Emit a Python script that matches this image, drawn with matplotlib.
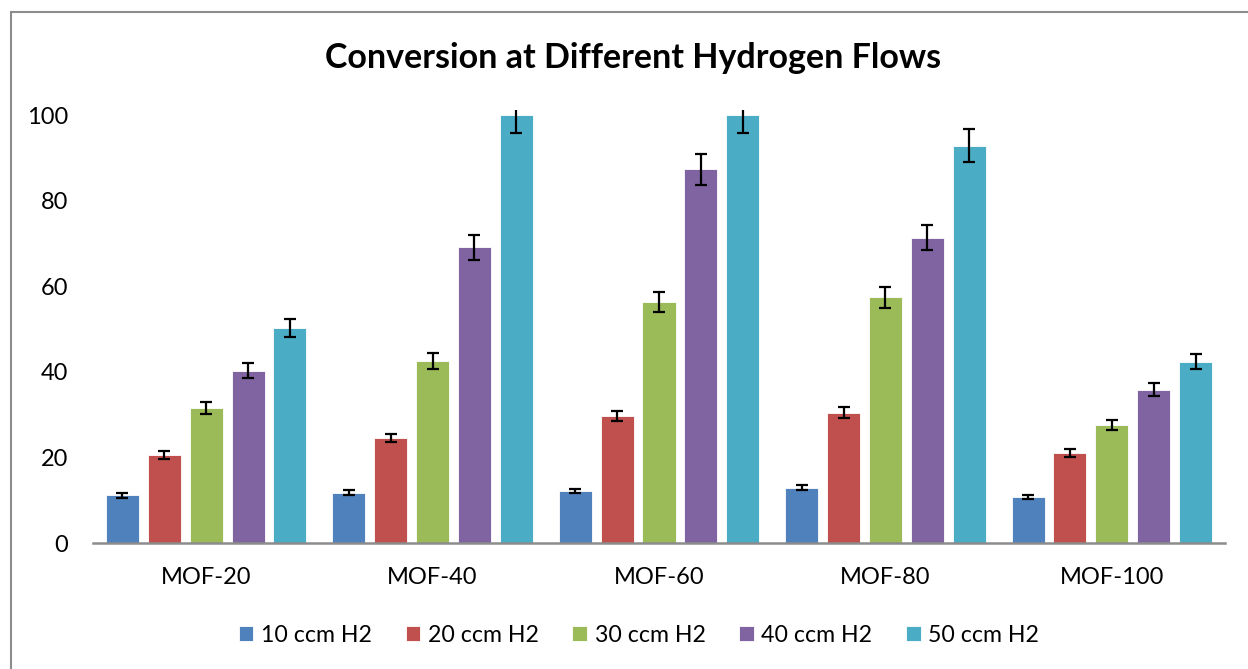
import numpy as np
import matplotlib
matplotlib.use("Agg")
import matplotlib.pyplot as plt
from matplotlib.patches import Rectangle

plt.rcParams["font.family"] = ["Lato", "DejaVu Sans"]

# ─── data ────────────────────────────────────────────────────────────────
categories = ["MOF-20", "MOF-40", "MOF-60", "MOF-80", "MOF-100"]
series = ["10 ccm H2", "20 ccm H2", "30 ccm H2", "40 ccm H2", "50 ccm H2"]
conv_10 = [11.1, 11.8, 12.1, 12.9, 10.7]
conv_20 = [20.5, 24.5, 29.7, 30.4, 21.0]
conv_30 = [31.5, 42.5, 56.3, 57.4, 27.6]
conv_40 = [40.3, 69.1, 87.3, 71.3, 35.8]
conv_50 = [50.3, 100.0, 100.0, 92.8, 42.4]
err_10 = [0.6, 0.5, 0.5, 0.55, 0.47]
err_20 = [0.95, 1.0, 1.25, 1.3, 0.9]
err_30 = [1.35, 1.8, 2.35, 2.4, 1.17]
err_40 = [1.7, 2.9, 3.65, 2.95, 1.52]
err_50 = [2.1, 4.2, 4.2, 3.85, 1.75]
yticks = [0, 20, 40, 60, 80, 100]

values = [conv_10, conv_20, conv_30, conv_40, conv_50]
errors = [err_10, err_20, err_30, err_40, err_50]
colors = ["#4F81BD", "#C0504D", "#9BBB59", "#8064A2", "#4BACC6"]

fig = plt.figure(figsize=(12.48, 6.69), dpi=100, facecolor="white")
ax = fig.add_axes([93/1248, (669-543)/669, 1132/1248, (543-109.9)/669])

x = np.arange(len(categories))
step, width = 0.185, 0.146
for i, (vals, errs, c, lab) in enumerate(zip(values, errors, colors, series)):
    pos = x + (i - 2) * step
    ax.bar(pos, vals, width=width, color=c, edgecolor="#ffffff", linewidth=0.6,
           label=lab, zorder=2)
    ax.errorbar(pos, vals, yerr=errs, fmt="none", ecolor="black", elinewidth=1.6,
                capsize=4.5, capthick=1.6, zorder=3)

ax.set_xlim(-0.5, len(categories) - 0.5)
ax.set_ylim(0, 101.2)
ax.set_yticks(yticks)
ax.set_xticks(x)
ax.set_xticklabels(categories)
for s in ["top", "right", "left"]:
    ax.spines[s].set_visible(False)
ax.spines["bottom"].set_color("#8c8c8c")
ax.spines["bottom"].set_linewidth(1.8)
ax.tick_params(axis="y", length=0, labelsize=17, pad=18)
ax.tick_params(axis="x", length=0, labelsize=17, pad=17)

fig.text(633/1248, 1 - 58/669, "Conversion at Different Hydrogen Flows",
         ha="center", va="center", fontsize=24.5, fontweight="bold")

leg = fig.legend(*ax.get_legend_handles_labels(), loc="center",
                 bbox_to_anchor=(639/1248, 1 - 635/669), ncol=5, frameon=False,
                 fontsize=16.7, handlelength=0.63, handleheight=0.63,
                 handletextpad=0.33, columnspacing=1.45)

# chart-area frame
fig.patches.append(Rectangle((11/1248, -0.1), 1.2, (669-12)/669 + 0.1,
                             transform=fig.transFigure, fill=False,
                             edgecolor="#8c8c8c", linewidth=1.5))

fig.savefig("out.png", dpi=100, facecolor="white")
